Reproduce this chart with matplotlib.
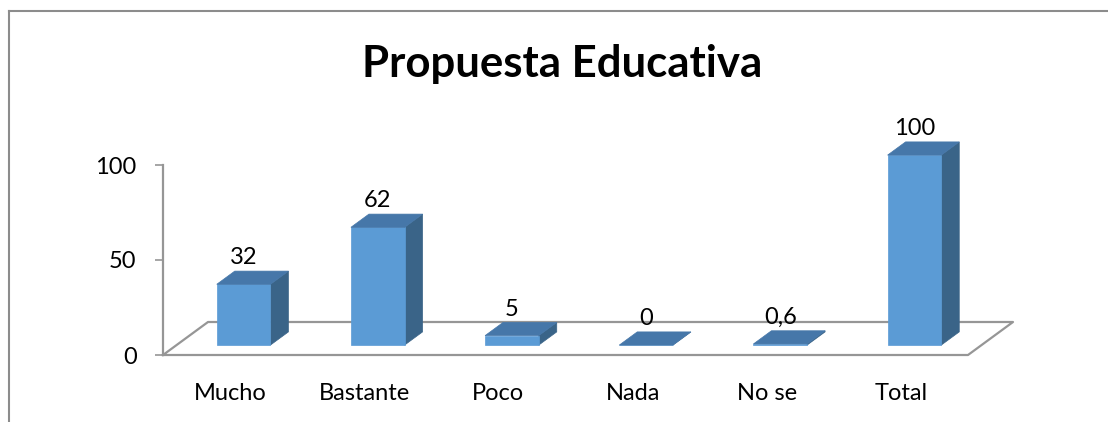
import matplotlib
matplotlib.use("Agg")
import matplotlib.pyplot as plt
from matplotlib.patches import Polygon
from matplotlib.lines import Line2D

# datos del grafico
categorias = ["Mucho", "Bastante", "Poco", "Nada", "No se", "Total"]
valores = [32, 62, 5, 0, 0.6, 100]
etiquetas = ["32", "62", "5", "0", "0,6", "100"]
titulo = "Propuesta Educativa"

plt.rcParams["font.family"] = ["Lato", "DejaVu Sans"]

# colores tipo Excel
C_FRENTE = "#5B9BD5"
C_ARRIBA = "#4677A9"
C_LADO = "#3A6488"
C_PISO = "#969696"

fig = plt.figure(figsize=(11.08, 4.22), dpi=100)
W, H = 1108, 422
# eje: x -0.5..5.5 -> px 163..968, y 0..100 -> px 355..165
ax = fig.add_axes([163 / W, (H - 355) / H, (968 - 163) / W, 190 / H])
ax.set_xlim(-0.5, 5.5)
ax.set_ylim(0, 100)

# profundidad (oblicua) en unidades de datos
px_x = (968 - 163) / 6.0
px_y = 190 / 100.0
DX = 45 / px_x
DY = 33 / px_y
d0, d1 = 0.3, 0.7
ancho = 0.4


def p(x, y, d):
    return (x + d * DX, y + d * DY)


# piso
piso = [p(-0.5, 0, 0), p(5.5, 0, 0), p(5.5, 0, 1), p(-0.5, 0, 1), p(-0.5, 0, 0)]
ax.add_line(Line2D([q[0] for q in piso], [q[1] for q in piso], color=C_PISO,
                   lw=1.6, clip_on=False, zorder=1))

for i, v in enumerate(valores):
    x0, x1 = i - ancho / 2, i + ancho / 2
    frente = [p(x0, 0, d0), p(x1, 0, d0), p(x1, v, d0), p(x0, v, d0)]
    arriba = [p(x0, v, d0), p(x1, v, d0), p(x1, v, d1), p(x0, v, d1)]
    lado = [p(x1, 0, d0), p(x1, 0, d1), p(x1, v, d1), p(x1, v, d0)]
    ax.add_patch(Polygon(lado, closed=True, fc=C_LADO, ec=C_LADO, lw=0.5,
                         clip_on=False, zorder=3))
    ax.add_patch(Polygon(frente, closed=True, fc=C_FRENTE, ec=C_FRENTE, lw=0.5,
                         clip_on=False, zorder=4))
    ax.add_patch(Polygon(arriba, closed=True, fc=C_ARRIBA, ec=C_ARRIBA, lw=0.5,
                         clip_on=False, zorder=5))
    xt, yt = p(i, v, d0)
    ax.annotate(etiquetas[i], xy=(xt, v + d1 * DY), xytext=(0, 2),
                textcoords="offset points", ha="center", va="bottom",
                fontsize=17, color="black", zorder=6, annotation_clip=False)

# ejes
for s in ["top", "right", "bottom"]:
    ax.spines[s].set_visible(False)
ax.spines["left"].set_color(C_PISO)
ax.spines["left"].set_linewidth(1.6)
ax.set_yticks([0, 50, 100])
ax.tick_params(axis="y", length=6, width=1.2, color=C_PISO, pad=13, labelsize=17)
ax.set_xticks(range(len(categorias)))
ax.set_xticklabels(categorias)
ax.tick_params(axis="x", length=0, pad=20, labelsize=17)
ax.patch.set_alpha(0)

# titulo
fig.text(562 / W, (H - 77) / H, titulo, ha="center", va="baseline",
         fontsize=31.5, fontweight="bold")

# borde del grafico
fig.add_artist(Line2D([9 / W, 1], [(H - 11) / H, (H - 11) / H],
                      color="#8C8C8C", lw=1.5, transform=fig.transFigure))
fig.add_artist(Line2D([9 / W, 9 / W], [0, (H - 11) / H],
                      color="#8C8C8C", lw=1.5, transform=fig.transFigure))

fig.savefig("out.png", dpi=100)
